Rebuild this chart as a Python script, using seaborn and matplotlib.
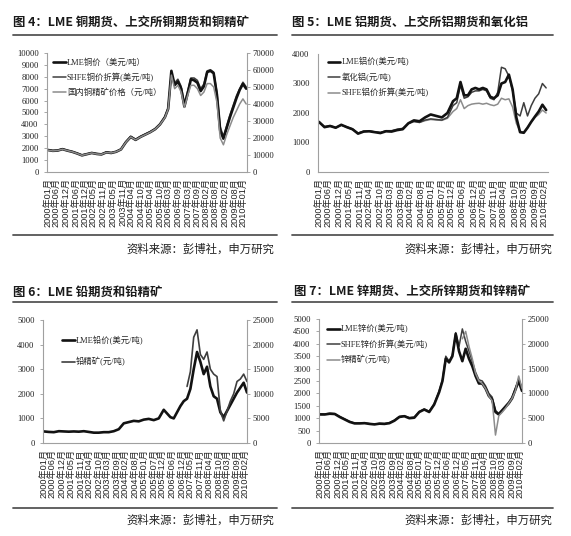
import seaborn as sns
import matplotlib.pyplot as plt
from matplotlib.lines import Line2D

W, H = 571, 536

# month index: 0 = 2000年01月
MONTHS = list(range(0, 72, 3)) + list(range(72, 123, 2))
ORE_MONTHS = MONTHS[-19:]

# copper
cu_lme = [1850, 1780, 1800, 1920, 1800, 1700, 1560, 1400, 1500, 1600, 1520, 1480,
          1650, 1600, 1700, 1900, 2500, 2950, 2700, 2950, 3150, 3350, 3600, 4000,
          4600, 5300, 8500, 7300, 7600, 7000, 5500, 6600, 7800, 7700, 7500, 6800,
          7200, 8400, 8500, 8300, 6500, 3500, 2800, 3700, 4600, 5400, 6200, 6900,
          7400, 7000]
cu_shfe = [1870, 1800, 1830, 1950, 1820, 1720, 1580, 1430, 1520, 1620, 1550, 1500,
           1680, 1620, 1720, 1930, 2550, 3000, 2750, 3000, 3200, 3400, 3650, 4050,
           4650, 5400, 8200, 7500, 7800, 7200, 5800, 6800, 7900, 7900, 7700, 7000,
           7400, 8500, 8600, 8400, 6700, 3800, 3000, 3900, 4800, 5600, 6400, 7000,
           7550, 7150]
cu_ore = [12900, 12400, 12600, 13400, 12600, 11900, 10900, 9800, 10500, 11200, 10600, 10400,
          11500, 11200, 11900, 13300, 17500, 20600, 18900, 20600, 22000, 23400, 25200, 28000,
          32000, 37000, 57000, 49000, 51000, 47000, 38000, 45000, 51000, 51000, 49000, 45000,
          47000, 52000, 52000, 50000, 41000, 20000, 16000, 22000, 27000, 32000, 36000, 40000,
          43000, 40000]

# aluminium
al_lme = [1700, 1520, 1560, 1500, 1600, 1520, 1450, 1300, 1370, 1380, 1350, 1320,
          1380, 1370, 1420, 1450, 1650, 1750, 1720, 1850, 1950, 1900, 1850, 2000,
          2400, 2500, 3050, 2600, 2600, 2800, 2850, 2800, 2850, 2800, 2550, 2500,
          2600, 3000, 3050, 3300, 2800, 1850, 1350, 1330, 1500, 1700, 1880, 2050,
          2280, 2100]
al_oxide = [1680, 1540, 1570, 1510, 1590, 1530, 1460, 1320, 1380, 1390, 1360, 1340,
            1400, 1400, 1450, 1480, 1650, 1720, 1680, 1760, 1800, 1780, 1760, 1850,
            2250, 2350, 2950, 2500, 2550, 2700, 2750, 2750, 2800, 2750, 2500, 2450,
            2700, 3550, 3500, 3250, 2750, 2000, 1900, 2350, 1900, 2250, 2500, 2650,
            3000, 2850]
al_shfe = [1700, 1530, 1550, 1500, 1590, 1510, 1440, 1310, 1380, 1390, 1360, 1330,
           1390, 1390, 1440, 1470, 1640, 1700, 1680, 1740, 1780, 1760, 1750, 1820,
           2050, 2150, 2450, 2150, 2250, 2300, 2320, 2330, 2300, 2330, 2280, 2250,
           2300, 2500, 2450, 2480, 2200, 1650, 1380, 1350, 1520, 1700, 1850, 1950,
           2100, 2000]

# lead
pb_lme = [470, 450, 440, 480, 470, 460, 470, 460, 480, 450, 420, 420,
          440, 440, 480, 560, 800, 850, 900, 880, 950, 980, 930, 1000,
          1350, 1200, 1050, 1000, 1250, 1500, 1700, 1800, 2200, 3000, 3700, 3300,
          2800, 3100, 2300, 1900, 1800, 1250, 1050, 1300, 1550, 1800, 2050, 2250,
          2450, 2050]
pb_ore = [11500, 14500, 21500, 23000, 18000, 17000, 18500, 15000, 14000, 13500,
          6500, 4500, 6500, 8500, 10000, 12500, 13000, 14000, 12500]

# zinc
zn_lme = [1150, 1150, 1180, 1170, 1050, 950, 850, 790, 790, 800, 770, 750,
          780, 770, 800, 900, 1050, 1080, 1000, 1020, 1250, 1350, 1250, 1550,
          2050, 2500, 3400, 3250, 3500, 4400, 3700, 3300, 3800, 3400, 3100, 2700,
          2400, 2400, 2200, 1900, 1750, 1250, 1150, 1300, 1450, 1600, 1800, 2150,
          2500, 2100]
zn_shfe = [1180, 1170, 1200, 1180, 1070, 970, 870, 800, 800, 810, 780, 760,
           790, 780, 820, 920, 1070, 1100, 1020, 1040, 1270, 1370, 1280, 1580,
           2100, 2550, 3500, 3300, 3550, 4450, 3900, 4600, 4100, 3700, 3300, 2850,
           2550, 2500, 2300, 2000, 1850, 1300, 1200, 1350, 1500, 1650, 1850, 2200,
           2600, 2200]
zn_ore = [21000, 22500, 19500, 17000, 14000, 12500, 12000, 11000, 9500, 8500,
          1600, 5500, 6200, 7000, 8000, 9000, 10500, 13500, 11000]

LABELS_CU = ['2000年01月', '2000年06月', '2000年12月', '2001年06月', '2001年12月', '2002年05月',
             '2002年11月', '2003年05月', '2003年11月', '2004年04月', '2004年10月', '2005年04月',
             '2005年10月', '2006年03月', '2006年09月', '2007年03月', '2007年09月', '2008年02月',
             '2008年08月', '2009年02月', '2009年08月', '2010年01月']
LABELS = ['2000年01月', '2000年06月', '2000年12月', '2001年05月', '2001年11月', '2002年04月',
          '2002年10月', '2003年03月', '2003年09月', '2004年02月', '2004年08月', '2005年01月',
          '2005年07月', '2005年12月', '2006年06月', '2006年12月', '2007年05月', '2007年11月',
          '2008年04月', '2008年10月', '2009年03月', '2009年09月', '2010年02月']

SOURCE = '资料来源：彭博社，申万研究'

BLACK, DARK, GREY = '#121212', '#3e3e3e', '#8c8c8c'
NUM_FONT = ['Liberation Serif', 'Noto Sans CJK SC']
LEG_FONT = ['Liberation Serif', 'Noto Sans CJK SC']
XLAB_FONT = ['Liberation Sans', 'Noto Sans CJK SC']

sns.set_style('white')
plt.rcParams['font.family'] = ['Noto Sans CJK SC', 'DejaVu Sans']
plt.rcParams['axes.unicode_minus'] = False

fig = plt.figure(figsize=(W / 100, H / 100), dpi=100)


def add_ax(l, t, r, b):
    return fig.add_axes([l / W, 1 - b / H, (r - l) / W, (b - t) / H])


def month_pos(lbl):
    return (int(lbl[:4]) - 2000) * 12 + int(lbl[5:7]) - 1


def style_left(ax, xlim, ymax, ystep, labels):
    ax.set_xlim(*xlim)
    ax.set_ylim(0, ymax)
    ticks = list(range(0, ymax + 1, ystep))
    ax.set_yticks(ticks, labels=[str(v) for v in ticks], fontfamily=NUM_FONT,
                  fontsize=6.2, color='#222222')
    ax.set_xticks([month_pos(s) for s in labels], labels=labels, rotation=90,
                  fontfamily=XLAB_FONT, fontsize=6.6, color='#222222')
    ax.set_xticks(range(0, 123), minor=True)
    ax.tick_params(axis='x', which='both', length=2.5, width=0.5, color='#aaaaaa', pad=2)
    ax.tick_params(axis='y', length=2, width=0.6, color='#999999', pad=4)
    for side in ('top', 'right'):
        ax.spines[side].set_visible(False)
    for side in ('left', 'bottom'):
        ax.spines[side].set_color('#a0a0a0')
        ax.spines[side].set_linewidth(0.8)
    ax.set_xlabel('')
    ax.set_ylabel('')


def style_right(ax2, ymax, ystep):
    ax2.set_ylim(0, ymax)
    ticks = list(range(0, ymax + 1, ystep))
    ax2.set_yticks(ticks, labels=[str(v) for v in ticks], fontfamily=NUM_FONT,
                   fontsize=6.2, color='#222222')
    ax2.tick_params(axis='y', length=2, width=0.6, color='#999999', pad=2)
    for side in ('top', 'left', 'bottom'):
        ax2.spines[side].set_visible(False)
    ax2.spines['right'].set_color('#a0a0a0')
    ax2.spines['right'].set_linewidth(0.8)
    ax2.set_ylabel('')


def line(ax, x, y, color, lw, label):
    sns.lineplot(x=x, y=y, ax=ax, color=color, linewidth=lw, label=label,
                 errorbar=None, legend=False)


def add_legend(axes, order, x, y, spacing):
    lookup = {}
    for a in axes:
        h, l = a.get_legend_handles_labels()
        lookup.update(dict(zip(l, h)))
    axes[-1].legend([lookup[k] for k in order], order, loc='upper left',
                    bbox_to_anchor=(x / W, 1 - y / H), bbox_transform=fig.transFigure,
                    frameon=False, borderpad=0, borderaxespad=0, handlelength=1.5,
                    handletextpad=0.15, labelspacing=spacing,
                    prop={'family': LEG_FONT, 'size': 6})


def frame(title, tx, ty, x0, x1, y_top, y_bot, sx, sy):
    fig.text(tx / W, 1 - ty / H, title, fontsize=8.9, fontweight='bold',
             ha='left', va='center', color='#1a1a1a')
    for yy in (y_top, y_bot):
        fig.add_artist(Line2D([x0 / W, x1 / W], [1 - yy / H] * 2,
                              transform=fig.transFigure, color='#555555', lw=1.3))
    fig.text(sx / W, 1 - sy / H, SOURCE, fontsize=8.2, ha='right', va='center',
             color='#222222')


# 图4 copper
ax = add_ax(47, 53, 247, 172)
ax2 = ax.twinx()
line(ax, MONTHS, cu_shfe, DARK, 1.1, 'SHFE铜价折算(美元/吨)')
line(ax, MONTHS, cu_lme, BLACK, 1.9, 'LME铜价（美元/吨）')
line(ax2, MONTHS, cu_ore, GREY, 1.1, '国内铜精矿价格（元/吨）')
style_left(ax, (-0.5, 122.5), 10000, 1000, LABELS_CU)
style_right(ax2, 70000, 10000)
add_legend([ax, ax2], ['LME铜价（美元/吨）', 'SHFE铜价折算(美元/吨)', '国内铜精矿价格（元/吨）'],
           53, 58, 0.75)
frame('图 4：LME 铜期货、上交所铜期货和铜精矿', 13, 22.7, 13, 277, 35, 235, 274, 249)

# 图5 aluminium
ax = add_ax(318, 54, 548, 172)
line(ax, MONTHS, al_shfe, GREY, 1.1, 'SHFE铝价折算(美元/吨)')
line(ax, MONTHS, al_oxide, DARK, 1.1, '氧化铝(元/吨)')
line(ax, MONTHS, al_lme, BLACK, 1.9, 'LME铝价(美元/吨)')
style_left(ax, (-0.5, 123), 4000, 1000, LABELS)
add_legend([ax], ['LME铝价(美元/吨)', '氧化铝(元/吨)', 'SHFE铝价折算(美元/吨)'],
           328, 57.5, 0.75)
frame('图 5：LME 铝期货、上交所铝期货和氧化铝', 292, 22.7, 292, 553, 35, 235, 552, 249)

# 图6 lead
ax = add_ax(43, 320, 247, 443)
ax2 = ax.twinx()
line(ax, MONTHS, pb_lme, BLACK, 1.9, 'LME铅价(美元/吨)')
line(ax2, ORE_MONTHS, pb_ore, DARK, 1.2, '铅精矿(元/吨)')
style_left(ax, (-0.5, 122), 5000, 1000, LABELS)
style_right(ax2, 25000, 5000)
add_legend([ax, ax2], ['LME铅价(美元/吨)', '铅精矿(元/吨)'], 62, 336, 1.45)
frame('图 6：LME 铅期货和铅精矿', 13, 292.7, 13, 277, 302, 508, 274, 520)

# 图7 zinc
ax = add_ax(319, 319, 522, 443)
ax2 = ax.twinx()
line(ax, MONTHS, zn_shfe, DARK, 1.1, 'SHFE锌价折算(美元/吨)')
line(ax, MONTHS, zn_lme, BLACK, 1.9, 'LME锌价(美元/吨)')
line(ax2, ORE_MONTHS, zn_ore, GREY, 1.1, '锌精矿(元/吨)')
style_left(ax, (-0.5, 121.5), 5000, 500, LABELS)
style_right(ax2, 25000, 5000)
add_legend([ax, ax2], ['LME锌价(美元/吨)', 'SHFE锌价折算(美元/吨)', '锌精矿(元/吨)'],
           327, 324.5, 0.75)
frame('图 7：LME 锌期货、上交所锌期货和锌精矿', 294, 291.7, 292, 553, 302, 508, 552, 520)

fig.savefig('out.png', dpi=100)
